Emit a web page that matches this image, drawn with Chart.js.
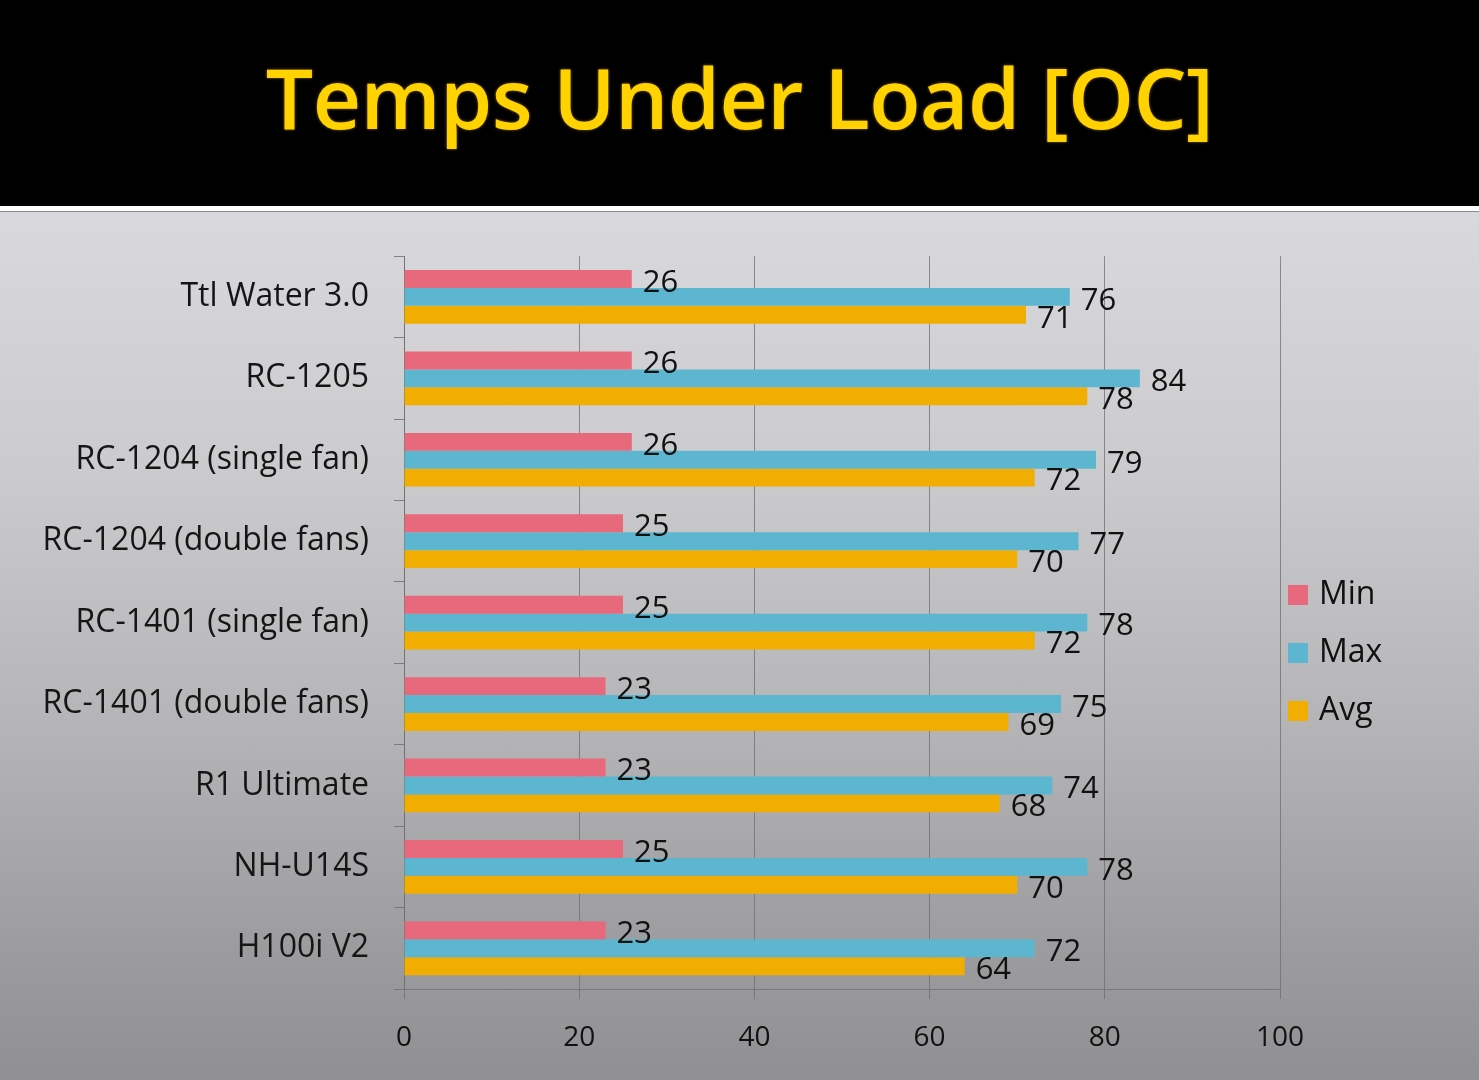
<!DOCTYPE html>
<html>
<head>
<meta charset="utf-8">
<script src="https://cdn.jsdelivr.net/npm/chart.js@4"></script>
<style>
  html, body { margin: 0; padding: 0; width: 1479px; height: 1080px; overflow: hidden; }
  body { background: #000; position: relative; font-family: "Open Sans", sans-serif; }
  #banner { position: absolute; left: 0; top: 0; width: 1479px; height: 206px; background: #000; }
  #banner h1 {
    margin: 0; position: absolute; left: 0; width: 1479px; top: 42px;
    text-align: center; font-family: "Open Sans", sans-serif; font-weight: 600;
    font-size: 84px; line-height: 110px; color: #FFD200;
    text-shadow: 0 0 3px #8a6a00, 2px 3px 4px rgba(0,0,0,0.9);
    letter-spacing: -0.6px;
  }
  #strip { position: absolute; left: 0; top: 206px; width: 1479px; height: 6px; background: #fff; border-bottom: 1px solid #8a8a8a; box-sizing: border-box; }
  #panel {
    position: absolute; left: 0; top: 212px; width: 1479px; height: 868px;
    background: linear-gradient(180deg, #d9d9dd 0%, #cbcbce 30%, #b4b4b6 60%, #9c9c9e 85%, #909092 100%);
  }
  #panel canvas { position: absolute; left: 0; top: 0; }
</style>
</head>
<body>
<div id="banner"><h1>Temps Under Load [OC]</h1></div>
<div id="strip"></div>
<div id="panel"><canvas id="grafico" width="1479" height="868"></canvas></div>

<script>
// dados do grafico
const coolers = ["Ttl Water 3.0", "RC-1205", "RC-1204 (single fan)", "RC-1204 (double fans)",
  "RC-1401 (single fan)", "RC-1401 (double fans)", "R1 Ultimate", "NH-U14S", "H100i V2"];
const tempMin = [26, 26, 26, 25, 25, 23, 23, 25, 23];
const tempMax = [76, 84, 79, 77, 78, 75, 74, 78, 72];
const tempAvg = [71, 78, 72, 70, 72, 69, 68, 70, 64];
const xTicks = [0, 20, 40, 60, 80, 100];

const cores = { min: "#E8697C", max: "#5CB6CF", avg: "#F1AE00" };
const fonte = "'Open Sans', sans-serif";

// rotulos de valor ao lado de cada barra
const rotulosBarras = {
  id: "rotulosBarras",
  afterDatasetsDraw(chart) {
    const ctx = chart.ctx;
    ctx.save();
    ctx.font = "31px " + fonte;
    ctx.fillStyle = "#111";
    ctx.textAlign = "left";
    ctx.textBaseline = "middle";
    chart.data.datasets.forEach((ds, i) => {
      const meta = chart.getDatasetMeta(i);
      meta.data.forEach((bar, j) => {
        ctx.fillText(String(ds.data[j]), bar.x + 11, bar.y + 4);
      });
    });
    ctx.restore();
  }
};

// legenda desenhada a mao, a direita da area do grafico
const legendaDireita = {
  id: "legendaDireita",
  afterDraw(chart) {
    const ctx = chart.ctx;
    const x = chart.chartArea.right + 8;
    const passo = 58;
    const n = chart.data.datasets.length;
    const y0 = chart.height / 2 + 7 - passo * (n - 1) / 2;
    ctx.save();
    ctx.font = "32px " + fonte;
    ctx.textBaseline = "middle";
    ctx.textAlign = "left";
    chart.data.datasets.forEach((ds, i) => {
      const y = y0 + i * passo;
      ctx.fillStyle = ds.backgroundColor;
      ctx.fillRect(x, y - 10, 20, 20);
      ctx.fillStyle = "#111";
      ctx.fillText(ds.label, x + 31, y);
    });
    ctx.restore();
  }
};

new Chart(document.getElementById("grafico"), {
  type: "bar",
  data: {
    labels: coolers,
    datasets: [
      { label: "Min", data: tempMin, backgroundColor: cores.min },
      { label: "Max", data: tempMax, backgroundColor: cores.max },
      { label: "Avg", data: tempAvg, backgroundColor: cores.avg }
    ]
  },
  options: {
    indexAxis: "y",
    responsive: false,
    animation: false,
    layout: { padding: { top: 43, right: 199, bottom: 0, left: 0 } },
    datasets: { bar: { categoryPercentage: 0.66, barPercentage: 1.0 } },
    plugins: { legend: { display: false }, tooltip: { enabled: false } },
    scales: {
      x: {
        min: 0, max: 100,
        afterBuildTicks: (s) => { s.ticks = xTicks.map(v => ({ value: v })); },
        afterFit: (s) => { s.height = 91; },
        grid: { color: "rgba(110,110,110,0.75)", lineWidth: 1, tickLength: 10 },
        border: { color: "rgba(110,110,110,0.75)" },
        ticks: { color: "#111", font: { family: fonte, size: 28 }, padding: 22 }
      },
      y: {
        afterFit: (s) => { s.width = 404; },
        grid: { drawOnChartArea: false, color: "rgba(110,110,110,0.8)", tickLength: 10 },
        border: { color: "rgba(110,110,110,0.8)" },
        ticks: { color: "#151515", font: { family: fonte, size: 32 }, padding: 25, autoSkip: false }
      }
    }
  },
  plugins: [rotulosBarras, legendaDireita]
});
</script>
</body>
</html>
